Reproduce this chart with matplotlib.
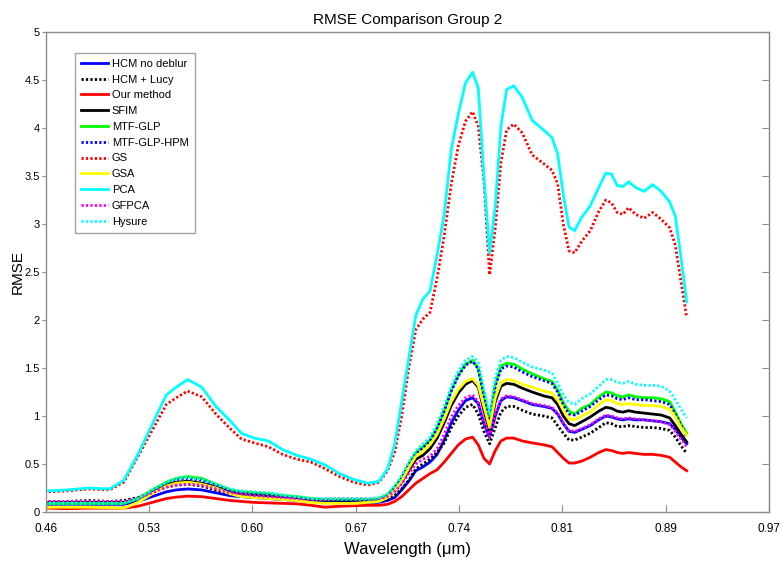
import numpy as np
import matplotlib
matplotlib.use("Agg")
import matplotlib.pyplot as plt
from matplotlib import font_manager

plt.rcParams['font.family'] = ['Liberation Sans', 'DejaVu Sans']

wavelength = [0.462, 0.475, 0.490, 0.505, 0.515, 0.525, 0.535, 0.545, 0.552, 0.560,
              0.570, 0.580, 0.590, 0.598, 0.607, 0.617, 0.627, 0.637, 0.647, 0.657,
              0.667, 0.677, 0.687, 0.695, 0.701, 0.706, 0.711, 0.716, 0.721, 0.726,
              0.731, 0.736, 0.741, 0.746, 0.751, 0.756, 0.761, 0.765, 0.769, 0.773,
              0.777, 0.781, 0.785, 0.790, 0.796, 0.803, 0.811, 0.817, 0.821, 0.825,
              0.829, 0.833, 0.838, 0.844, 0.850, 0.855, 0.859, 0.863, 0.867, 0.871,
              0.876, 0.882, 0.888, 0.894, 0.900, 0.904, 0.908, 0.912]

hcm_no_deblur = [0.08, 0.08, 0.08, 0.08, 0.08, 0.11, 0.16, 0.21, 0.23, 0.24,
                 0.23, 0.20, 0.17, 0.16, 0.15, 0.14, 0.13, 0.12, 0.11, 0.10,
                 0.10, 0.10, 0.10, 0.10, 0.12, 0.15, 0.23, 0.32, 0.43, 0.47,
                 0.52, 0.60, 0.75, 0.93, 1.06, 1.16, 1.19, 1.13, 0.92, 0.78,
                 1.00, 1.16, 1.20, 1.19, 1.16, 1.12, 1.10, 1.08, 1.02, 0.92,
                 0.84, 0.83, 0.86, 0.90, 0.96, 1.00, 0.99, 0.97, 0.96, 0.97,
                 0.96, 0.96, 0.95, 0.94, 0.92, 0.86, 0.78, 0.71]
hcm_lucy = [0.11, 0.11, 0.12, 0.11, 0.12, 0.15, 0.21, 0.26, 0.28, 0.29,
            0.27, 0.23, 0.19, 0.18, 0.17, 0.16, 0.15, 0.14, 0.13, 0.12,
            0.12, 0.12, 0.12, 0.12, 0.13, 0.17, 0.24, 0.33, 0.45, 0.50,
            0.55, 0.62, 0.72, 0.88, 1.00, 1.09, 1.12, 1.02, 0.84, 0.71,
            0.88, 1.04, 1.10, 1.10, 1.06, 1.02, 1.00, 0.98, 0.90, 0.82,
            0.75, 0.75, 0.78, 0.82, 0.88, 0.93, 0.92, 0.89, 0.89, 0.90,
            0.89, 0.88, 0.88, 0.87, 0.85, 0.78, 0.69, 0.61]
our_method = [0.04, 0.035, 0.04, 0.04, 0.04, 0.06, 0.10, 0.14, 0.155, 0.165,
              0.16, 0.14, 0.12, 0.11, 0.10, 0.095, 0.09, 0.085, 0.07, 0.05,
              0.06, 0.065, 0.07, 0.07, 0.08, 0.11, 0.16, 0.23, 0.30, 0.35,
              0.40, 0.44, 0.52, 0.61, 0.70, 0.76, 0.78, 0.70, 0.56, 0.50,
              0.64, 0.74, 0.77, 0.77, 0.74, 0.72, 0.70, 0.68, 0.62, 0.56,
              0.51, 0.51, 0.53, 0.57, 0.62, 0.65, 0.64, 0.62, 0.61, 0.62,
              0.61, 0.60, 0.60, 0.59, 0.57, 0.52, 0.47, 0.43]
sfim = [0.10, 0.10, 0.10, 0.10, 0.10, 0.14, 0.21, 0.28, 0.31, 0.32,
        0.30, 0.26, 0.21, 0.19, 0.18, 0.17, 0.16, 0.15, 0.13, 0.12,
        0.12, 0.12, 0.12, 0.13, 0.16, 0.22, 0.31, 0.43, 0.55, 0.59,
        0.66, 0.77, 0.93, 1.11, 1.24, 1.33, 1.37, 1.30, 1.06, 0.84,
        1.15, 1.31, 1.34, 1.33, 1.29, 1.25, 1.21, 1.19, 1.12, 1.00,
        0.92, 0.90, 0.94, 0.99, 1.05, 1.09, 1.08, 1.05, 1.04, 1.055,
        1.04, 1.03, 1.02, 1.01, 0.98, 0.90, 0.81, 0.73]
mtf_glp = [0.09, 0.09, 0.09, 0.09, 0.09, 0.14, 0.23, 0.31, 0.35, 0.37,
           0.35, 0.29, 0.23, 0.21, 0.20, 0.19, 0.17, 0.16, 0.14, 0.13,
           0.13, 0.13, 0.13, 0.14, 0.18, 0.26, 0.36, 0.50, 0.62, 0.68,
           0.75, 0.88, 1.06, 1.27, 1.43, 1.54, 1.58, 1.50, 1.22, 0.97,
           1.33, 1.52, 1.55, 1.54, 1.49, 1.44, 1.39, 1.36, 1.27, 1.14,
           1.05, 1.02, 1.08, 1.12, 1.20, 1.25, 1.24, 1.21, 1.20, 1.22,
           1.20, 1.19, 1.19, 1.18, 1.15, 1.04, 0.92, 0.82]
mtf_glp_hpm = [0.10, 0.10, 0.10, 0.10, 0.10, 0.14, 0.22, 0.30, 0.34, 0.35,
               0.33, 0.28, 0.22, 0.20, 0.19, 0.18, 0.16, 0.15, 0.13, 0.12,
               0.12, 0.12, 0.12, 0.13, 0.17, 0.25, 0.35, 0.49, 0.61, 0.67,
               0.74, 0.87, 1.05, 1.26, 1.42, 1.53, 1.57, 1.49, 1.20, 0.95,
               1.31, 1.49, 1.52, 1.51, 1.46, 1.41, 1.37, 1.34, 1.25, 1.11,
               1.02, 1.01, 1.05, 1.10, 1.17, 1.22, 1.21, 1.18, 1.17, 1.19,
               1.17, 1.17, 1.16, 1.15, 1.12, 1.02, 0.90, 0.78]
gs = [0.21, 0.22, 0.24, 0.23, 0.31, 0.58, 0.85, 1.12, 1.19, 1.26,
      1.20, 1.02, 0.87, 0.76, 0.72, 0.68, 0.60, 0.55, 0.52, 0.45,
      0.37, 0.31, 0.28, 0.31, 0.43, 0.62, 1.00, 1.50, 1.90, 2.01,
      2.08, 2.44, 2.88, 3.42, 3.82, 4.07, 4.17, 4.02, 3.45, 2.47,
      2.96, 3.64, 3.98, 4.04, 3.95, 3.72, 3.63, 3.56, 3.42, 3.00,
      2.72, 2.70, 2.82, 2.93, 3.13, 3.25, 3.22, 3.12, 3.10, 3.17,
      3.10, 3.06, 3.12, 3.05, 2.96, 2.78, 2.40, 2.03]
gsa = [0.05, 0.05, 0.05, 0.045, 0.04, 0.10, 0.19, 0.27, 0.30, 0.31,
       0.29, 0.25, 0.19, 0.16, 0.15, 0.14, 0.13, 0.12, 0.10, 0.09,
       0.09, 0.09, 0.10, 0.11, 0.15, 0.22, 0.32, 0.46, 0.58, 0.63,
       0.70, 0.81, 0.97, 1.15, 1.28, 1.36, 1.39, 1.32, 1.10, 0.88,
       1.19, 1.35, 1.38, 1.37, 1.33, 1.30, 1.26, 1.24, 1.17, 1.06,
       0.97, 0.96, 1.00, 1.04, 1.12, 1.17, 1.16, 1.13, 1.12, 1.13,
       1.12, 1.11, 1.11, 1.10, 1.07, 0.99, 0.88, 0.80]
pca = [0.22, 0.23, 0.25, 0.24, 0.33, 0.60, 0.91, 1.22, 1.30, 1.38,
       1.30, 1.10, 0.95, 0.82, 0.77, 0.74, 0.65, 0.59, 0.55, 0.49,
       0.40, 0.34, 0.30, 0.32, 0.45, 0.70, 1.15, 1.60, 2.05, 2.22,
       2.30, 2.68, 3.10, 3.78, 4.15, 4.47, 4.58, 4.42, 3.50, 2.70,
       3.18, 4.02, 4.40, 4.44, 4.32, 4.08, 3.98, 3.90, 3.73, 3.30,
       2.97, 2.93, 3.07, 3.19, 3.38, 3.53, 3.52, 3.40, 3.39, 3.44,
       3.38, 3.34, 3.41, 3.34, 3.23, 3.08, 2.65, 2.19]
gfpca = [0.11, 0.11, 0.11, 0.11, 0.11, 0.14, 0.20, 0.26, 0.28, 0.29,
         0.28, 0.24, 0.20, 0.19, 0.17, 0.16, 0.15, 0.14, 0.13, 0.13,
         0.14, 0.14, 0.14, 0.14, 0.16, 0.21, 0.29, 0.40, 0.50, 0.55,
         0.58, 0.66, 0.81, 0.99, 1.11, 1.19, 1.22, 1.15, 0.94, 0.79,
         1.02, 1.18, 1.21, 1.20, 1.17, 1.13, 1.11, 1.09, 1.03, 0.93,
         0.85, 0.84, 0.87, 0.91, 0.97, 1.01, 1.00, 0.98, 0.97, 0.98,
         0.97, 0.96, 0.95, 0.94, 0.91, 0.84, 0.76, 0.68]
hysure = [0.09, 0.09, 0.09, 0.09, 0.09, 0.14, 0.23, 0.31, 0.35, 0.36,
          0.34, 0.29, 0.24, 0.22, 0.21, 0.20, 0.18, 0.16, 0.14, 0.14,
          0.14, 0.14, 0.14, 0.15, 0.19, 0.27, 0.38, 0.52, 0.64, 0.71,
          0.78, 0.92, 1.10, 1.31, 1.47, 1.58, 1.62, 1.56, 1.28, 1.02,
          1.40, 1.58, 1.62, 1.61, 1.56, 1.51, 1.48, 1.45, 1.34, 1.22,
          1.14, 1.12, 1.18, 1.23, 1.31, 1.38, 1.38, 1.35, 1.34, 1.36,
          1.33, 1.32, 1.32, 1.31, 1.26, 1.17, 1.07, 0.98]

series_names = ['HCM no deblur', 'HCM + Lucy', 'Our method', 'SFIM', 'MTF-GLP',
                'MTF-GLP-HPM', 'GS', 'GSA', 'PCA', 'GFPCA', 'Hysure']
series_values = [hcm_no_deblur, hcm_lucy, our_method, sfim, mtf_glp,
                 mtf_glp_hpm, gs, gsa, pca, gfpca, hysure]
colors = ['#0000ff', '#000000', '#ff0000', '#000000', '#00ff00',
          '#0000ff', '#ff0000', '#ffff00', '#00ffff', '#ff00ff', '#00ffff']
dotted = [False, True, False, False, False, True, True, False, False, True, True]

xtick_labels = ['0.46', '0.53', '0.60', '0.67', '0.74', '0.81', '0.89', '0.97']
ytick_labels = ['0', '0.5', '1', '1.5', '2', '2.5', '3', '3.5', '4', '4.5', '5']

fig = plt.figure(figsize=(7.83, 5.65), dpi=100)
ax = fig.add_axes([0.0585, 0.0938, 0.9235, 0.8496])

for name, vals, c, d in zip(series_names, series_values, colors, dotted):
    if d:
        ax.plot(wavelength, vals, color=c, lw=2.0, linestyle=(0, (0.8, 0.8)), label=name)
    else:
        ax.plot(wavelength, vals, color=c, lw=2.0, linestyle='-', label=name)

ax.set_xlim(0.46, 0.97)
ax.set_ylim(0, 5)
ax.set_xticks(np.linspace(0.46, 0.97, len(xtick_labels)))
ax.set_xticklabels(xtick_labels)
ax.set_yticks(np.linspace(0, 5, len(ytick_labels)))
ax.set_yticklabels(ytick_labels)

for s in ax.spines.values():
    s.set_color('#8c8c8c')
    s.set_linewidth(1.0)
ax.tick_params(axis='x', direction='in', length=5, color='#8c8c8c', labelsize=8.5, pad=8, top=False)
ax.tick_params(axis='y', direction='out', length=3, color='#8c8c8c', labelsize=8, pad=1.5, right=False)

sec = ax.secondary_yaxis('right')
sec.set_yticks(np.linspace(0, 5, len(ytick_labels)))
sec.tick_params(axis='y', direction='in', length=5, color='#8c8c8c', labelright=False)
sec.spines['right'].set_color('#8c8c8c')

ax.set_title('RMSE Comparison Group 2', fontsize=11, pad=6)
ax.set_xlabel('Wavelength (\u03bcm)', fontsize=12, labelpad=5)
ax.set_ylabel('RMSE', fontsize=11)
ax.yaxis.set_label_coords(-0.0295, 0.5)

leg = ax.legend(loc='upper left', bbox_to_anchor=(0.040, 0.957), fontsize=8,
                handlelength=2.4, labelspacing=0.52, borderpad=0.55,
                handletextpad=0.4, frameon=True, fancybox=False, borderaxespad=0)
leg.get_frame().set_edgecolor('#8c8c8c')
leg.get_frame().set_linewidth(1.0)

fig.savefig('out.png', dpi=100)
